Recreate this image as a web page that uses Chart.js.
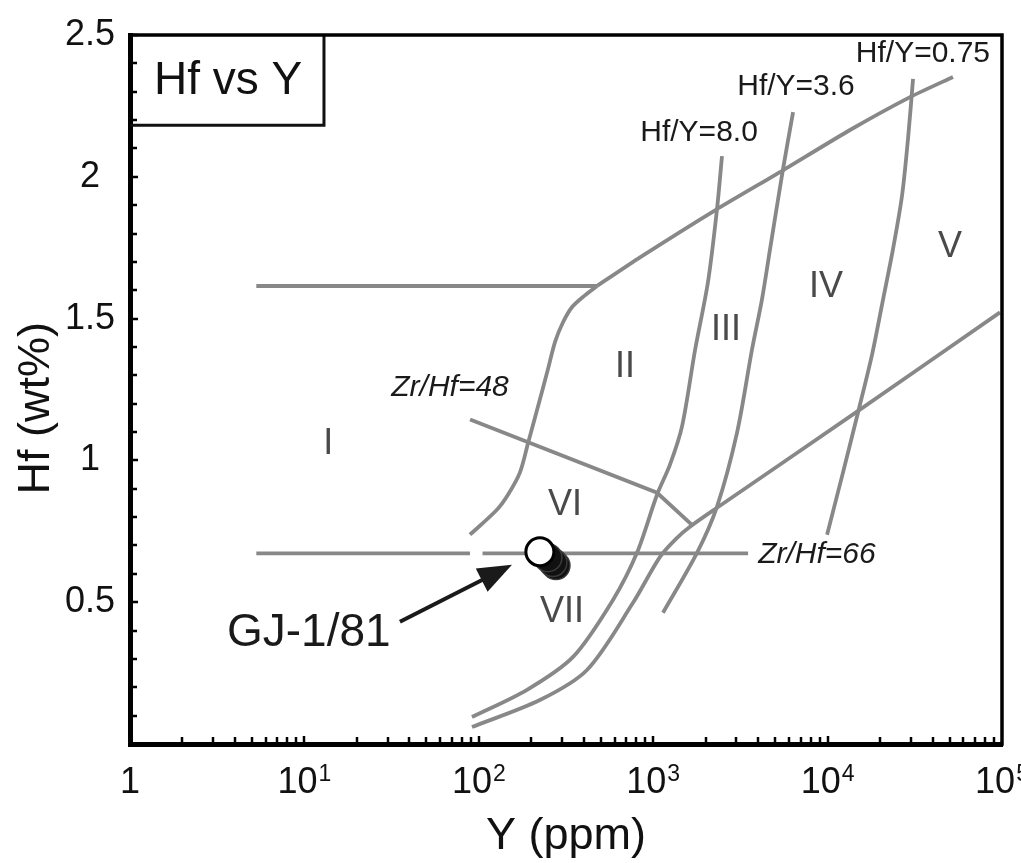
<!DOCTYPE html>
<html>
<head>
<meta charset="utf-8">
<title>Hf vs Y</title>
<script src="https://cdn.jsdelivr.net/npm/chart.js@4.4.1/dist/chart.umd.min.js"></script>
<style>
  html, body { margin: 0; padding: 0; background: #fff; }
  #wrap { width: 1021px; height: 863px; }
</style>
</head>
<body>
<div id="wrap"><canvas id="hfChart" width="1021" height="863"></canvas></div>
<script>
// Boundary lines: Y in ppm (log axis), Hf in wt%
const upperFlatY = [5.3, 476];
const upperFlatHf = [1.615, 1.615];

const upperDiagY = [476, 840, 2262, 5550, 13440, 29680, 52360];
const upperDiagHf = [1.615, 1.716, 1.882, 2.023, 2.165, 2.281, 2.352];

const curveOneTwoY = [476, 406, 342, 304, 274, 249, 224, 192, 172, 147, 127, 89];
const curveOneTwoHf = [1.615, 1.582, 1.540, 1.487, 1.419, 1.321, 1.215, 1.063, 0.957, 0.879, 0.826, 0.738];

const hfY80Y = [2480, 2322, 2060, 1740, 1462, 1248, 1052, 807, 588, 347, 189, 91.4];
const hfY80Hf = [2.073, 1.886, 1.628, 1.391, 1.119, 0.985, 0.879, 0.674, 0.508, 0.307, 0.191, 0.095];

const hfY36Y = [6340, 5550, 4675, 4205, 3686, 3025, 2322, 1783, 1138];
const hfY36Hf = [2.228, 2.027, 1.744, 1.568, 1.391, 1.098, 0.837, 0.674, 0.463];

const hfY075Y = [30900, 28900, 26700, 23700, 20800, 18000, 14940, 12250, 9930];
const hfY075Hf = [2.345, 2.133, 1.932, 1.744, 1.568, 1.374, 1.169, 0.957, 0.738];

const lowerDiagY = [91.4, 224, 417, 766, 1094, 1370, 1625, 2322, 14750, 97400];
const lowerDiagHf = [0.060, 0.155, 0.261, 0.498, 0.660, 0.727, 0.766, 0.833, 1.172, 1.522];

const zrHf48Y = [89.1, 1052, 1668];
const zrHf48Hf = [1.144, 0.886, 0.773];

const zrHf66LeftY = [5.3, 89];
const zrHf66RightY = [105, 3500];
const zrHf66Hf = [0.672, 0.672];

// sample GJ-1/81 (several overlapping analyses)
const sampleBackY = [277, 266, 249];
const sampleBackHf = [0.629, 0.640, 0.657];
const sampleFrontY = [224];
const sampleFrontHf = [0.678];

// labels
const regionNames = ['I', 'II', 'III', 'IV', 'V', 'VI', 'VII'];
const regionY = [13.7, 689, 2614, 9790, 50300, 312, 300];
const regionHf = [1.059, 1.328, 1.458, 1.610, 1.751, 0.844, 0.466];

const ratioNames = ['Hf/Y=8.0', 'Hf/Y=3.6', 'Hf/Y=0.75'];
const ratioY = [1832, 6590, 35200];
const ratioHf = [2.157, 2.316, 2.433];

const zrNames = ['Zr/Hf=48', 'Zr/Hf=66'];
const zrY = [68.4, 8690];
const zrHf = [1.257, 0.667];

const sampleName = 'GJ-1/81';
const sampleLabelY = 10.6;
const sampleLabelHf = 0.392;
const arrowY = [35.3, 155];
const arrowHf = [0.431, 0.632];

const boxTitle = 'Hf vs Y';
const boxCornerY = 12.95;
const boxCornerHf = 2.182;
const boxTextY = 3.65;
const boxTextHf = 2.335;

// axes
const xTickValues = [1, 10, 100, 1000, 10000, 100000];
const xTickBase = ['1', '10', '10', '10', '10', '10'];
const xTickExp = ['', '1', '2', '3', '4', '5'];
const yTickValues = [0.5, 1, 1.5, 2, 2.5];
const yTickLabels = ['0.5', '1', '1.5', '2', '2.5'];

const FONT = "'Liberation Sans', Arial, Helvetica, sans-serif";
const LINE_GREY = '#888888';

function pts(xs, ys) {
    return xs.map((v, i) => ({ x: v, y: ys[i] }));
}

function boundary(xs, ys, tension) {
    return {
        data: pts(xs, ys),
        showLine: true,
        borderColor: LINE_GREY,
        borderWidth: 3.8,
        pointRadius: 0,
        tension: tension || 0,
        order: 10
    };
}

const decorPlugin = {
    id: 'decor',
    afterDatasetsDraw(chart) {
        const { ctx, chartArea } = chart;
        const xs = chart.scales.x, ys = chart.scales.y;
        const px = v => xs.getPixelForValue(v);
        const py = v => ys.getPixelForValue(v);
        ctx.save();

        // title box
        ctx.strokeStyle = '#111';
        ctx.lineWidth = 3;
        ctx.beginPath();
        ctx.moveTo(px(boxCornerY), chartArea.top);
        ctx.lineTo(px(boxCornerY), py(boxCornerHf));
        ctx.lineTo(chartArea.left, py(boxCornerHf));
        ctx.stroke();

        ctx.textAlign = 'center';
        ctx.textBaseline = 'middle';
        ctx.fillStyle = '#111';
        ctx.font = '46px ' + FONT;
        ctx.fillText(boxTitle, px(boxTextY), py(boxTextHf));

        // region numerals
        ctx.fillStyle = '#4a4a4a';
        ctx.font = '36px ' + FONT;
        regionNames.forEach((t, i) => ctx.fillText(t, px(regionY[i]), py(regionHf[i])));

        // ratio line labels
        ctx.fillStyle = '#1a1a1a';
        ctx.font = '30px ' + FONT;
        ratioNames.forEach((t, i) => ctx.fillText(t, px(ratioY[i]), py(ratioHf[i])));
        ctx.font = 'italic 30px ' + FONT;
        zrNames.forEach((t, i) => ctx.fillText(t, px(zrY[i]), py(zrHf[i])));

        // sample label and arrow
        ctx.font = '46px ' + FONT;
        ctx.fillText(sampleName, px(sampleLabelY), py(sampleLabelHf));

        const x0 = px(arrowY[0]), y0 = py(arrowHf[0]);
        const x1 = px(arrowY[1]), y1 = py(arrowHf[1]);
        const ang = Math.atan2(y1 - y0, x1 - x0);
        const headLen = 34, headHalf = 13;
        const bx = x1 - headLen * Math.cos(ang), by = y1 - headLen * Math.sin(ang);
        ctx.strokeStyle = '#1a1a1a';
        ctx.lineWidth = 4;
        ctx.beginPath();
        ctx.moveTo(x0, y0);
        ctx.lineTo(bx + 6 * Math.cos(ang), by + 6 * Math.sin(ang));
        ctx.stroke();
        ctx.beginPath();
        ctx.moveTo(x1, y1);
        ctx.lineTo(bx + headHalf * Math.sin(ang), by - headHalf * Math.cos(ang));
        ctx.lineTo(bx - headHalf * Math.sin(ang), by + headHalf * Math.cos(ang));
        ctx.closePath();
        ctx.fillStyle = '#1a1a1a';
        ctx.fill();

        ctx.restore();
    },
    afterDraw(chart) {
        const { ctx, chartArea } = chart;
        const xs = chart.scales.x, ys = chart.scales.y;
        ctx.save();
        ctx.strokeStyle = '#000';

        // top and right frame
        ctx.lineWidth = 3.5;
        ctx.lineCap = 'square';
        ctx.beginPath();
        ctx.moveTo(chartArea.left, chartArea.top);
        ctx.lineTo(chartArea.right, chartArea.top);
        ctx.lineTo(chartArea.right, chartArea.bottom);
        ctx.stroke();

        // inward tick marks
        ctx.lineCap = 'butt';
        ctx.lineWidth = 2.5;
        const bottom = chartArea.bottom, left = chartArea.left;
        ctx.beginPath();
        for (let e = 0; e < 5; e++) {
            for (let m = 1; m < 10; m++) {
                const v = m * Math.pow(10, e);
                const X = Math.round(xs.getPixelForValue(v));
                ctx.moveTo(X, bottom);
                ctx.lineTo(X, bottom - (m === 1 ? 8 : 7));
            }
        }
        for (let k = 1; k <= 25; k++) {
            const v = k / 10;
            const Y = Math.round(ys.getPixelForValue(v));
            ctx.moveTo(left, Y);
            ctx.lineTo(left + (k % 5 === 0 ? 8 : 7), Y);
        }
        ctx.stroke();

        // x tick labels: power-of-ten with raised exponent
        ctx.fillStyle = '#111';
        ctx.textBaseline = 'alphabetic';
        ctx.textAlign = 'left';
        xTickValues.forEach((v, i) => {
            ctx.font = '36px ' + FONT;
            const wb = ctx.measureText(xTickBase[i]).width;
            ctx.font = '23px ' + FONT;
            const we = xTickExp[i] ? ctx.measureText(xTickExp[i]).width + 1 : 0;
            const X = xs.getPixelForValue(v) - (wb + we) / 2;
            ctx.font = '36px ' + FONT;
            ctx.fillText(xTickBase[i], X, 793);
            if (xTickExp[i]) {
                ctx.font = '23px ' + FONT;
                ctx.fillText(xTickExp[i], X + wb + 1, 781);
            }
        });
        ctx.restore();
    }
};

const datasets = [
    {
        data: pts(sampleFrontY, sampleFrontHf),
        backgroundColor: '#ffffff',
        borderColor: '#000000',
        borderWidth: 3,
        pointRadius: 14,
        order: 0
    },
    {
        data: pts(sampleBackY, sampleBackHf),
        backgroundColor: '#111111',
        borderColor: '#3a3a3a',
        borderWidth: 1.5,
        pointRadius: 14,
        order: 1
    },
    boundary(upperFlatY, upperFlatHf, 0),
    boundary(upperDiagY, upperDiagHf, 0.2),
    boundary(curveOneTwoY, curveOneTwoHf, 0.3),
    boundary(hfY80Y, hfY80Hf, 0.3),
    boundary(hfY36Y, hfY36Hf, 0.3),
    boundary(hfY075Y, hfY075Hf, 0.3),
    boundary(lowerDiagY, lowerDiagHf, 0.3),
    boundary(zrHf48Y, zrHf48Hf, 0),
    boundary(zrHf66LeftY, zrHf66Hf, 0),
    boundary(zrHf66RightY, zrHf66Hf, 0)
];

new Chart(document.getElementById('hfChart'), {
    type: 'scatter',
    data: { datasets: datasets },
    options: {
        responsive: false,
        animation: false,
        devicePixelRatio: 1,
        layout: { padding: { top: 35, right: 19, left: 0, bottom: 0 } },
        plugins: {
            legend: { display: false },
            tooltip: { enabled: false }
        },
        scales: {
            x: {
                type: 'logarithmic',
                min: 1,
                max: 100000,
                grid: { display: false, drawTicks: false },
                border: { display: true, color: '#000', width: 5 },
                ticks: { display: false },
                title: {
                    display: true,
                    text: 'Y (ppm)',
                    color: '#111',
                    font: { family: FONT, size: 45, lineHeight: 1 },
                    padding: { top: 0, bottom: 4 }
                },
                afterBuildTicks: scale => {
                    scale.ticks = xTickValues.map(v => ({ value: v }));
                },
                afterFit: scale => {
                    scale.height = 119;
                    scale.paddingLeft = 0;
                    scale.paddingRight = 0;
                }
            },
            y: {
                type: 'linear',
                min: 0,
                max: 2.5,
                grid: { display: false, drawTicks: false },
                border: { display: true, color: '#000', width: 5 },
                ticks: {
                    crossAlign: 'center',
                    padding: 15,
                    color: '#111',
                    font: { family: FONT, size: 36 },
                    callback: (value, index) => yTickLabels[index]
                },
                title: {
                    display: true,
                    text: 'Hf (wt%)   ',
                    color: '#111',
                    font: { family: FONT, size: 45, lineHeight: 1 },
                    padding: { top: 14, bottom: 0 }
                },
                afterBuildTicks: scale => {
                    scale.ticks = yTickValues.map(v => ({ value: v }));
                },
                afterFit: scale => {
                    scale.width = 130;
                    scale.paddingTop = 0;
                    scale.paddingBottom = 0;
                }
            }
        }
    },
    plugins: [decorPlugin]
});
</script>
</body>
</html>
